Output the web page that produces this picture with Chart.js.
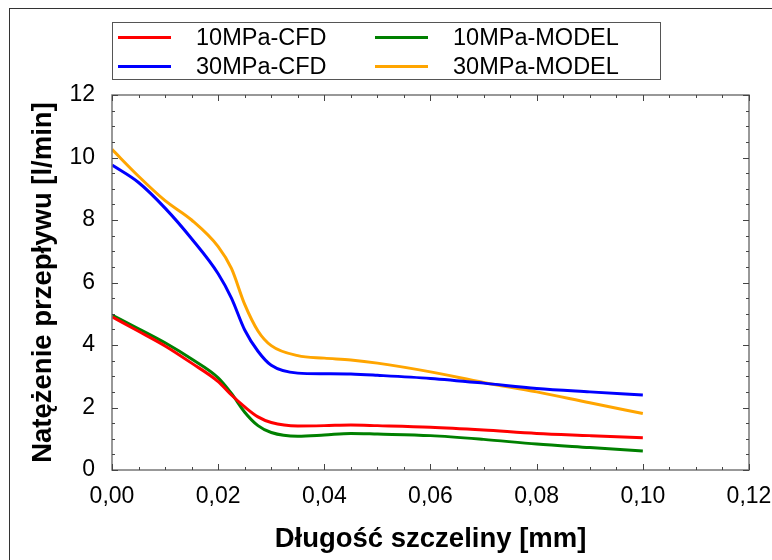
<!DOCTYPE html>
<html>
<head>
<meta charset="utf-8">
<script src="https://cdn.jsdelivr.net/npm/chart.js@4.4.1/dist/chart.umd.min.js"></script>
<style>
  html, body { margin: 0; padding: 0; background: #fff; }
  #wrap { position: relative; width: 772px; height: 560px; overflow: hidden; font-family: 'Liberation Sans', Arial, sans-serif; }
  #frame { position: absolute; left: 9px; top: 8px; width: 800px; height: 600px; border-left: 1px solid #333; border-top: 1px solid #333; }
  #legend { position: absolute; left: 112px; top: 22px; width: 549px; height: 58px; border: 1px solid #555; box-sizing: border-box; }
  .item { position: absolute; height: 26px; font-size: 23.5px; line-height: 26px; color: #000; white-space: nowrap; }
  .item .sw { position: absolute; left: 0; top: 12px; width: 53px; height: 3px; }
  .item .tx { position: absolute; left: 78px; top: 0; }
  canvas { position: absolute; left: 0; top: 0; }
</style>
</head>
<body>
<div id="wrap">
  <div id="frame"></div>
  <canvas id="flowChart" width="772" height="560"></canvas>
  <div id="legend"></div>
</div>
<script>
// Długość szczeliny [mm]
const xValues = [0, 0.005, 0.01, 0.015, 0.02, 0.0225, 0.025, 0.0275, 0.03, 0.035, 0.04, 0.045, 0.05, 0.06, 0.07, 0.08, 0.09, 0.1];

// Natężenie przepływu [l/min]
const cfd10 = [4.9, 4.44, 3.97, 3.42, 2.83, 2.4, 2.02, 1.7, 1.52, 1.41, 1.42, 1.44, 1.42, 1.37, 1.28, 1.17, 1.1, 1.03];
const model10 = [4.96, 4.52, 4.07, 3.55, 2.95, 2.45, 1.85, 1.42, 1.2, 1.08, 1.12, 1.17, 1.15, 1.1, 0.98, 0.83, 0.72, 0.61];
const cfd30 = [9.76, 9.2, 8.38, 7.4, 6.28, 5.5, 4.48, 3.8, 3.35, 3.1, 3.08, 3.07, 3.03, 2.93, 2.78, 2.61, 2.5, 2.4];
const model30 = [10.26, 9.4, 8.62, 8.0, 7.15, 6.45, 5.3, 4.45, 3.98, 3.66, 3.58, 3.52, 3.42, 3.14, 2.8, 2.5, 2.15, 1.81];

const seriesLabels = ['10MPa-CFD', '10MPa-MODEL', '30MPa-CFD', '30MPa-MODEL'];
const seriesColors = ['#ff0000', '#008000', '#0000ff', '#ffa500'];

const xTickValues = [0, 0.02, 0.04, 0.06, 0.08, 0.1, 0.12];
const yTickValues = [0, 2, 4, 6, 8, 10, 12];

function toPoints(ys) {
  return ys.map((y, i) => ({ x: xValues[i], y }));
}

// ramka + ticki do środka (major i minor)
const innerTicks = {
  id: 'innerTicks',
  afterDraw(chart) {
    const { ctx, chartArea: a, scales } = chart;
    const xs = scales.x, ys = scales.y;
    ctx.save();
    ctx.strokeStyle = '#777';
    ctx.lineWidth = 1.5;
    ctx.strokeRect(a.left, a.top, a.right - a.left, a.bottom - a.top);
    ctx.strokeStyle = '#444';
    ctx.lineWidth = 1;
    for (let v = 0; v <= 0.12 + 1e-9; v += 0.005) {
      const major = Math.abs(v / 0.02 - Math.round(v / 0.02)) < 1e-6;
      const len = major ? 6 : 3;
      const px = Math.round(xs.getPixelForValue(v)) + 0.5;
      ctx.beginPath();
      ctx.moveTo(px, a.bottom); ctx.lineTo(px, a.bottom - len);
      ctx.moveTo(px, a.top); ctx.lineTo(px, a.top + len);
      ctx.stroke();
    }
    for (let v = 0; v <= 12 + 1e-9; v += 0.5) {
      const major = v % 2 === 0;
      const len = major ? 6 : 3;
      const py = Math.round(ys.getPixelForValue(v)) + 0.5;
      ctx.beginPath();
      ctx.moveTo(a.left, py); ctx.lineTo(a.left + len, py);
      ctx.moveTo(a.right, py); ctx.lineTo(a.right - len, py);
      ctx.stroke();
    }
    ctx.restore();
  },
};

const datasets = [
  { label: seriesLabels[0], data: toPoints(cfd10), borderColor: seriesColors[0] },
  { label: seriesLabels[1], data: toPoints(model10), borderColor: seriesColors[1] },
  { label: seriesLabels[2], data: toPoints(cfd30), borderColor: seriesColors[2] },
  { label: seriesLabels[3], data: toPoints(model30), borderColor: seriesColors[3] },
].map((d) => ({ ...d, borderWidth: 3, pointRadius: 0, fill: false, cubicInterpolationMode: 'monotone' }));

new Chart(document.getElementById('flowChart'), {
  type: 'line',
  data: { datasets },
  options: {
    responsive: false,
    animation: false,
    layout: { padding: { left: 0, top: 95, right: 23, bottom: 0 } },
    plugins: { legend: { display: false }, tooltip: { enabled: false } },
    scales: {
      x: {
        type: 'linear',
        min: 0,
        max: 0.12,
        afterBuildTicks: (s) => { s.ticks = xTickValues.map((value) => ({ value })); },
        afterFit: (s) => { s.height = 90; s.paddingLeft = 0; s.paddingRight = 0; },
        grid: { display: false, drawTicks: false },
        border: { display: false },
        ticks: {
          padding: 13,
          color: '#000',
          font: { family: 'Liberation Sans', size: 23 },
          callback: (v) => Number(v).toFixed(2).replace('.', ','),
          maxRotation: 0,
        },
        title: {
          display: true,
          text: 'Długość szczeliny [mm]',
          color: '#000',
          font: { family: 'Liberation Sans', size: 27.5, weight: 'bold' },
          padding: { top: 0, bottom: 4 },
        },
      },
      y: {
        min: 0,
        max: 12,
        afterBuildTicks: (s) => { s.ticks = yTickValues.map((value) => ({ value })); },
        afterFit: (s) => { s.width = 112; s.paddingTop = 0; s.paddingBottom = 0; },
        grid: { display: false, drawTicks: false },
        border: { display: false },
        ticks: {
          padding: 17,
          color: '#000',
          font: { family: 'Liberation Sans', size: 23 },
        },
        title: {
          display: true,
          text: 'Natężenie przepływu [l/min]',
          color: '#000',
          font: { family: 'Liberation Sans', size: 27.5, weight: 'bold' },
          padding: { top: 27, bottom: 0 },
        },
      },
    },
  },
  plugins: [innerTicks],
});

// legenda 2x2 w ramce
const legendEl = document.getElementById('legend');
const legendPos = [[5, 1], [262, 1], [5, 30], [262, 30]];
seriesLabels.forEach((label, k) => {
  const it = document.createElement('div');
  it.className = 'item';
  it.style.left = legendPos[k][0] + 'px';
  it.style.top = legendPos[k][1] + 'px';
  it.innerHTML = `<span class="sw" style="background:${seriesColors[k]}"></span><span class="tx">${label}</span>`;
  legendEl.appendChild(it);
});
</script>
</body>
</html>
